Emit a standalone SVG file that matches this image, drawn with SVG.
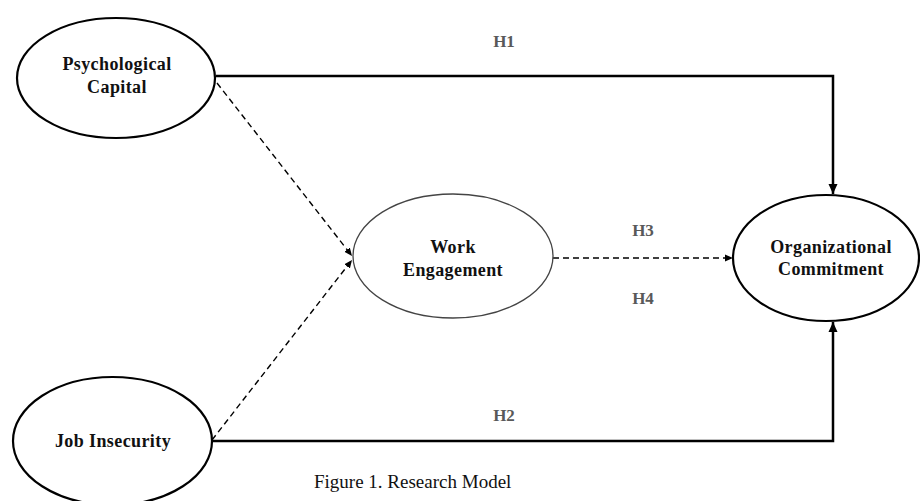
<svg xmlns="http://www.w3.org/2000/svg" width="920" height="501" viewBox="0 0 920 501">
<style>
.node{fill:#fff;stroke:#000;stroke-width:2.2}
.thin{fill:#fff;stroke:#444;stroke-width:1.3}
.lbl{font-family:"Liberation Serif","Times New Roman",serif;font-weight:bold;font-size:18px;fill:#111;text-anchor:middle;letter-spacing:0.4px}
.h{font-family:"Liberation Serif","Times New Roman",serif;font-weight:bold;font-size:17px;fill:#595959;text-anchor:middle}
.solid{fill:none;stroke:#000;stroke-width:2.5}
.dash{fill:none;stroke:#000;stroke-width:1.4;stroke-dasharray:6 4}
.cap{font-family:"Liberation Serif","Times New Roman",serif;font-size:19px;fill:#111}
</style>
<defs>
<marker id="ah" markerUnits="userSpaceOnUse" markerWidth="10" markerHeight="10" refX="10" refY="5" orient="auto">
<path d="M0,0.5 L10,5 L0,9.5 z" fill="#000"/>
</marker>
<marker id="ahs" markerUnits="userSpaceOnUse" markerWidth="8" markerHeight="8" refX="8" refY="4" orient="auto">
<path d="M0,0.5 L8,4 L0,7.5 z" fill="#000"/>
</marker>
</defs>
<g id="connectors">
<path class="solid" d="M216,76 H833 V194" marker-end="url(#ah)"/>
<path class="solid" d="M212,441 H833 V322" marker-end="url(#ah)"/>
<path class="dash" d="M217,83 L352,256" marker-end="url(#ahs)"/>
<path class="dash" d="M212,440 L352,260" marker-end="url(#ahs)"/>
<path class="dash" d="M553,258 L733,258" marker-end="url(#ahs)"/>
<text class="h" x="504" y="47">H1</text>
<text class="h" x="504" y="421">H2</text>
<text class="h" x="643" y="236">H3</text>
<text class="h" x="643" y="304">H4</text>
</g>
<g id="psychological-capital">
<ellipse class="node" cx="116" cy="78" rx="99" ry="60"/>
<text class="lbl" x="117" y="70">Psychological</text>
<text class="lbl" x="117" y="93">Capital</text>
</g>
<g id="job-insecurity">
<ellipse class="node" cx="112.5" cy="441" rx="99.5" ry="64"/>
<text class="lbl" x="113" y="447">Job Insecurity</text>
</g>
<g id="work-engagement">
<ellipse class="thin" cx="453" cy="256" rx="100" ry="62"/>
<text class="lbl" x="453" y="253">Work</text>
<text class="lbl" x="453" y="276">Engagement</text>
</g>
<g id="organizational-commitment">
<ellipse class="node" cx="826" cy="258" rx="93" ry="63"/>
<text class="lbl" x="831" y="253">Organizational</text>
<text class="lbl" x="831" y="275">Commitment</text>
</g>
<text class="cap" x="314" y="488">Figure 1. Research Model</text>
</svg>
